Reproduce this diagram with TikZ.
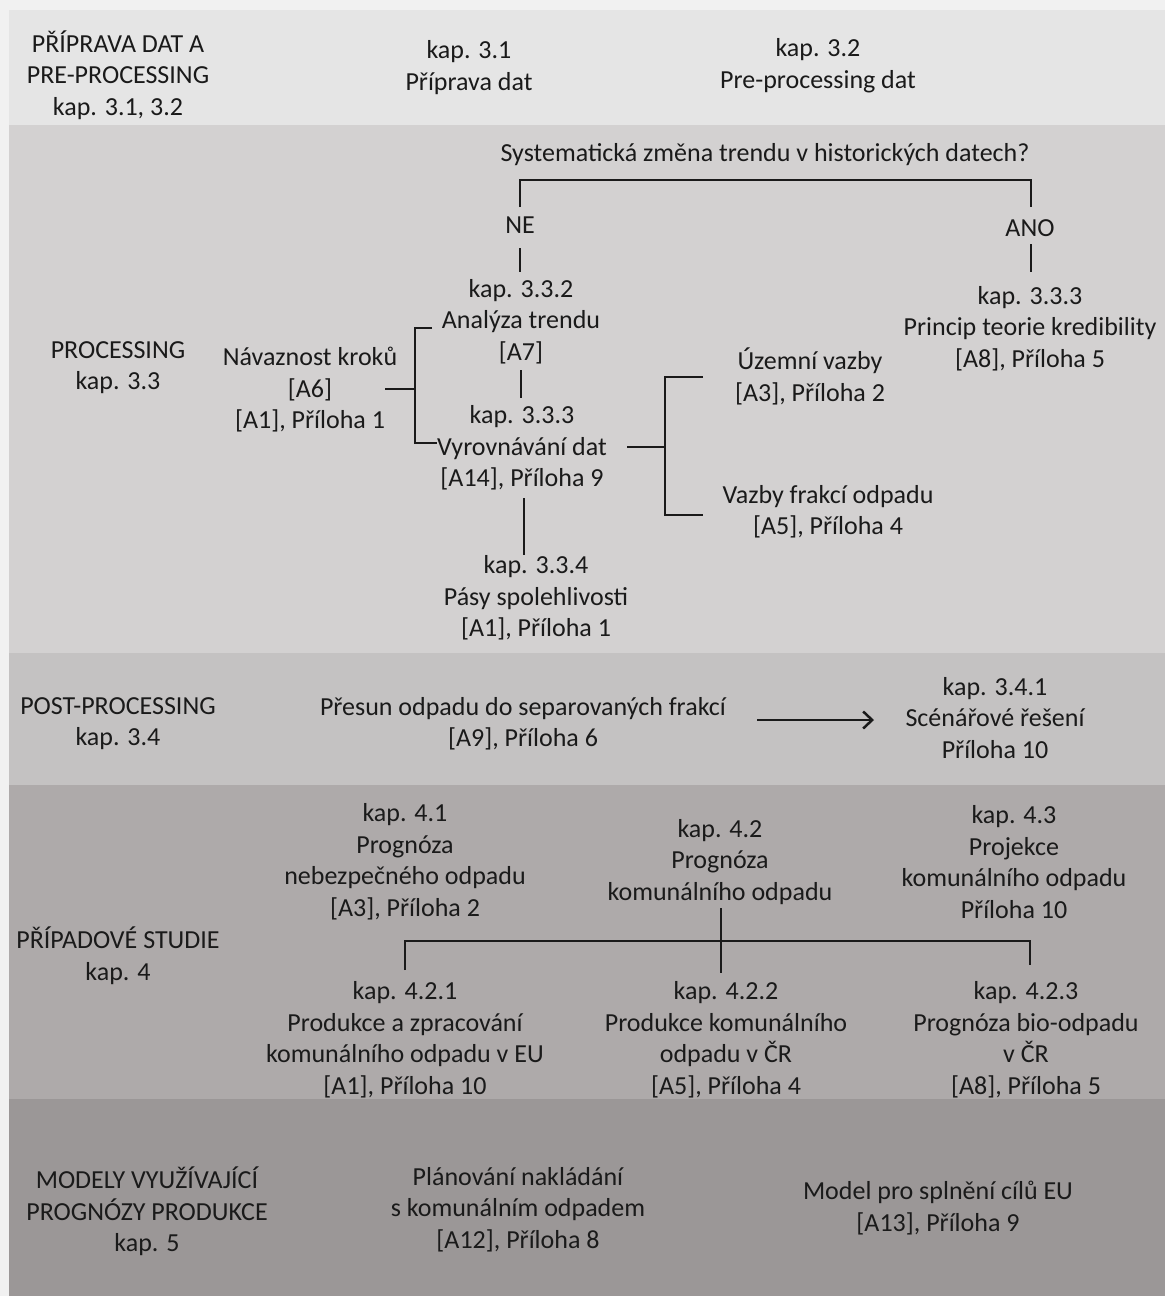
\documentclass[tikz,border=0pt]{standalone}
\usepackage{fontspec}
\setmainfont{Carlito}
\usetikzlibrary{arrows.meta}
\definecolor{margin}{HTML}{F1F1F1}
\definecolor{bandA}{HTML}{E5E5E5}
\definecolor{bandB}{HTML}{D3D1D1}
\definecolor{bandC}{HTML}{C4C2C2}
\definecolor{bandD}{HTML}{AEAAAA}
\definecolor{bandE}{HTML}{9B9797}
\definecolor{ink}{HTML}{1A1A1A}
\tikzset{
  txt/.style={align=center, inner sep=0pt, text=ink, font=\fontsize{26}{31.5}\selectfont},
  ln/.style={draw=ink, line width=2.5pt},
  arr/.style={draw=ink, line width=2.5pt, -{Straight Barb[length=9pt,width=17pt,line width=2.5pt]}},
}
\begin{document}
\begin{tikzpicture}[x=1pt,y=-1pt]
\useasboundingbox (0,0) rectangle (1165,1296);
% backgrounds
\fill[margin] (0,0) rectangle (1165,1296);
\fill[bandA] (9,10) rectangle (1165,125);
\fill[bandB] (9,125) rectangle (1165,653);
\fill[bandC] (9,653) rectangle (1165,785);
\fill[bandD] (9,785) rectangle (1165,1099);
\fill[bandE] (9,1099) rectangle (1165,1296);

% band 1
\node[txt] (n1a) at (118,75) {PŘÍPRAVA DAT A\\PRE-PROCESSING\\kap. 3.1, 3.2};
\node[txt] (n1b) at (469,67.5) {kap. 3.1\\Příprava dat};
\node[txt] (n1c) at (818,65.5) {kap. 3.2\\Pre-processing dat};

% band 2
\node[txt] (proc) at (118,367.5) {PROCESSING\\kap. 3.3};
\node[txt] (q) at (765,155) {Systematická změna trendu v historických datech?};
\node[txt] (ne) at (520,225) {NE};
\node[txt] (ano) at (1030,228) {ANO};
\node[txt] (an) at (521,321.5) {kap. 3.3.2\\Analýza trendu\\{}[A7]};
\node[txt] (vy) at (522,448) {kap. 3.3.3\\Vyrovnávání dat\\{}[A14], Příloha 9};
\node[txt] (nav) at (310,390) {Návaznost kroků\\{}[A6]\\{}[A1], Příloha 1};
\node[txt] (uz) at (810,376.5) {Územní vazby\\{}[A3], Příloha 2};
\node[txt] (vf) at (828,511.5) {Vazby frakcí odpadu\\{}[A5], Příloha 4};
\node[txt] (ps) at (536,598) {kap. 3.3.4\\Pásy spolehlivosti\\{}[A1], Příloha 1};
\node[txt] (pk) at (1030,328.5) {kap. 3.3.3\\Princip teorie kredibility\\{}[A8], Příloha 5};

% junction coordinates
\coordinate (qL) at (520,180);
\coordinate (qR) at (1031,180);
\coordinate (navOut) at (385,389);
\coordinate (navJ) at (415,389);
\coordinate (navT) at (415,328);
\coordinate (navB) at (415,443);
\coordinate (anIn) at (432,328);
\coordinate (vyIn) at (437,443);
\coordinate (vyOut) at (627,447);
\coordinate (vyJ) at (665,447);
\coordinate (vyT) at (665,377);
\coordinate (vyB) at (665,515);
\coordinate (uzIn) at (703,377);
\coordinate (vfIn) at (703,515);

\draw[ln, shorten <=18pt, shorten >=21pt] (ne.center) -- (qL) -- (qR) -- ([xshift=1pt]ano.center);
\draw[ln, shorten <=23pt, shorten >=49.5pt] (ne.center) -- ([xshift=-1pt]an.center);
\draw[ln, shorten <=16pt, shorten >=56.5pt] ([xshift=1pt]ano.center) -- ([xshift=1pt]pk.center);
\draw[ln, shorten <=48.5pt, shorten >=50pt] (an.center) -- ([xshift=-1pt]vy.center);
\draw[ln] (navOut) -- (navJ);
\draw[ln] (anIn) -- (navT) -- (navB) -- (vyIn);
\draw[ln] (vyOut) -- (vyJ);
\draw[ln] (uzIn) -- (vyT) -- (vyB) -- (vfIn);
\draw[ln, shorten <=50pt, shorten >=43pt] ([xshift=2pt]vy.center) -- ([xshift=-12pt]ps.center);

% band 3
\node[txt] (post) at (118,723.5) {POST-PROCESSING\\kap. 3.4};
\node[txt] (pr) at (523,723.5) {Přesun odpadu do separovaných frakcí\\{}[A9], Příloha 6};
\node[txt] (sc) at (995,718) {kap. 3.4.1\\Scénářové řešení\\Příloha 10};
\coordinate (arS) at (757,720);
\coordinate (arE) at (874,720);
\draw[arr] (arS) -- (arE);

% band 4
\node[txt] (ps4) at (118,955.5) {PŘÍPADOVÉ STUDIE\\kap. 4};
\node[txt] (s41) at (405,861.5) {kap. 4.1\\Prognóza\\nebezpečného odpadu\\{}[A3], Příloha 2};
\node[txt] (s42) at (720,861.7) {kap. 4.2\\Prognóza\\komunálního odpadu};
\node[txt] (s43) at (1014,862) {kap. 4.3\\Projekce\\komunálního odpadu\\Příloha 10};
\node[txt] (c1) at (405,1039.5) {kap. 4.2.1\\Produkce a zpracování\\komunálního odpadu v EU\\{}[A1], Příloha 10};
\node[txt] (c2) at (726,1039.5) {kap. 4.2.2\\Produkce komunálního\\odpadu v ČR\\{}[A5], Příloha 4};
\node[txt] (c3) at (1026,1039.5) {kap. 4.2.3\\Prognóza bio-odpadu\\v ČR\\{}[A8], Příloha 5};
\coordinate (hL) at (405,941);
\coordinate (hR) at (1030,941);
\coordinate (vT) at (721,908);
\coordinate (vB) at (721,973);
\draw[ln] (vT) -- (vB);
\draw[ln, shorten <=69.5pt, shorten >=74.5pt] (c1.center) -- (hL) -- (hR) -- ([xshift=4pt]c3.center);

% band 5
\node[txt] (m) at (147,1211.5) {MODELY VYUŽÍVAJÍCÍ\\PROGNÓZY PRODUKCE\\kap. 5};
\node[txt] (pl) at (518,1209.5) {Plánování nakládání\\s komunálním odpadem\\{}[A12], Příloha 8};
\node[txt] (mo) at (938,1208) {Model pro splnění cílů EU\\{}[A13], Příloha 9};
\end{tikzpicture}
\end{document}
